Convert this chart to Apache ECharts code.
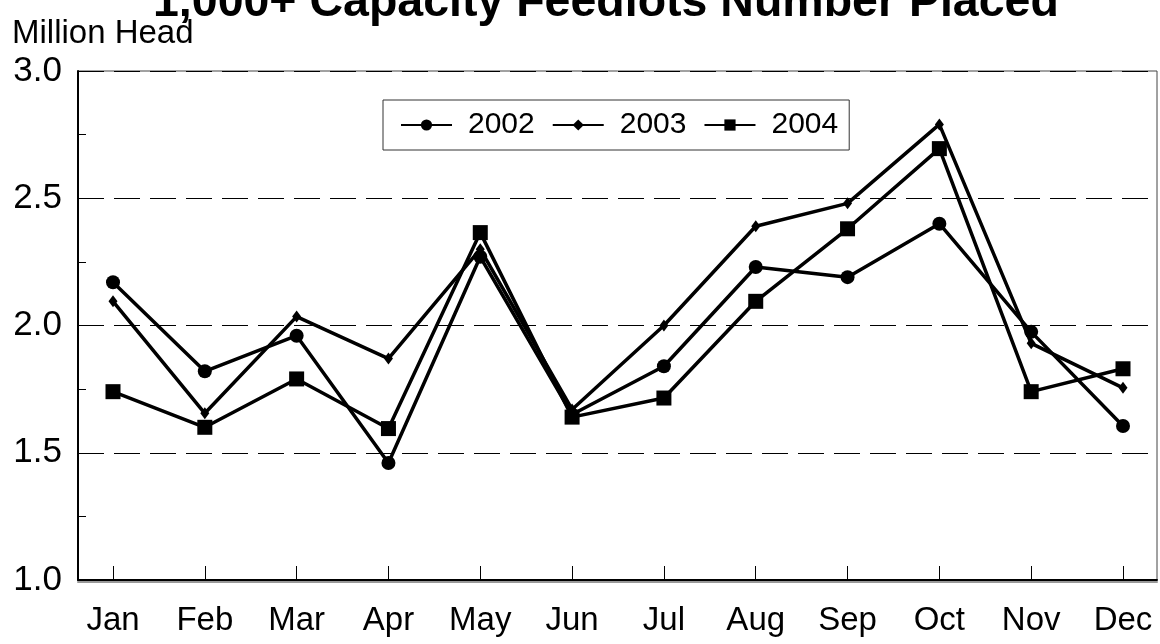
<!DOCTYPE html>
<html>
<head>
<meta charset="utf-8">
<script src="https://cdn.jsdelivr.net/npm/echarts@6/dist/echarts.min.js"></script>
<style>
  html, body { margin: 0; padding: 0; background: #fff; }
  #chart { width: 1160px; height: 644px; }
</style>
</head>
<body>
<div id="chart"></div>
<script>
const FONT = '"Liberation Sans", Arial, sans-serif';

const months = ["Jan", "Feb", "Mar", "Apr", "May", "Jun", "Jul", "Aug", "Sep", "Oct", "Nov", "Dec"];
const placed2002 = [2.17, 1.82, 1.96, 1.46, 2.27, 1.65, 1.84, 2.23, 2.19, 2.40, 1.975, 1.605];
const placed2003 = [2.095, 1.655, 2.035, 1.87, 2.30, 1.67, 2.00, 2.39, 2.48, 2.79, 1.93, 1.755];
const placed2004 = [1.74, 1.60, 1.79, 1.595, 2.365, 1.64, 1.715, 2.095, 2.38, 2.695, 1.74, 1.83];

const chart = echarts.init(document.getElementById("chart"));

// grid 0 = frame + y axis, grid 1 = where the months sit (inset from the frame)
const frame = { left: 78, right: 3, top: 71, bottom: 64 };

function line(name, data, symbol, size) {
  return {
    name,
    type: "line",
    xAxisIndex: 1,
    yAxisIndex: 1,
    data,
    symbol,
    symbolSize: size,
    showSymbol: true,
    lineStyle: { color: "#000", width: 3.5 },
    itemStyle: { color: "#000" },
    animation: false,
  };
}

chart.setOption({
  backgroundColor: "#fff",
  textStyle: { fontFamily: FONT },
  title: [
    {
      text: "1,000+ Capacity Feedlots Number Placed",
      left: 148,
      top: -25,
      textStyle: { fontFamily: FONT, fontSize: 46.5, fontWeight: "bold", color: "#000" },
    },
    {
      text: "Million Head",
      left: 7,
      top: 12,
      textStyle: { fontFamily: FONT, fontSize: 33, fontWeight: "normal", color: "#000" },
    },
  ],
  legend: {
    left: 383,
    top: 100,
    padding: [10, 11, 10, 17],
    borderColor: "#333",
    borderWidth: 1,
    itemWidth: 51,
    itemHeight: 14,
    itemGap: 17,
    textStyle: { fontFamily: FONT, fontSize: 30, color: "#000", padding: [0, 0, 0, 11] },
    data: ["2002", "2003", "2004"],
  },
  grid: [
    { ...frame, show: true, borderColor: "#444", borderWidth: 1, containLabel: false },
    { left: 113, right: 37, top: 71, bottom: 64, containLabel: false },
  ],
  xAxis: [
    {
      gridIndex: 0,
      type: "value",
      min: 0,
      max: 1,
      axisLine: {
        show: true,
        onZero: false,
        lineStyle: { color: "#000", width: 2, shadowColor: "#999", shadowOffsetY: 2 },
      },
      axisTick: { show: false },
      axisLabel: { show: false },
      splitLine: { show: false },
    },
    {
      gridIndex: 1,
      type: "category",
      data: months,
      boundaryGap: false,
      axisLine: { show: false },
      axisTick: { show: true, inside: true, length: 14, lineStyle: { color: "#000", width: 1 } },
      axisLabel: { fontFamily: FONT, fontSize: 33, color: "#000", margin: 24 },
      splitLine: { show: false },
    },
  ],
  yAxis: [
    {
      gridIndex: 0,
      type: "value",
      min: 1,
      max: 3,
      interval: 0.5,
      axisLine: { show: true, lineStyle: { color: "#000", width: 2 } },
      axisTick: { show: true, inside: true, length: 14, lineStyle: { color: "#000" } },
      minorTick: { show: true, splitNumber: 2, length: 8, lineStyle: { color: "#000" } },
      axisLabel: {
        fontFamily: FONT,
        fontSize: 35,
        color: "#000",
        margin: 16,
        formatter: (v) => v.toFixed(1),
      },
      splitLine: { show: true, lineStyle: { color: "#000", width: 1, type: [26, 10] } },
    },
    {
      gridIndex: 1,
      type: "value",
      min: 1,
      max: 3,
      show: false,
    },
  ],
  series: [
    line("2002", placed2002, "circle", 14),
    line("2003", placed2003, "diamond", [9, 12]),
    line("2004", placed2004, "rect", 15),
  ],
});
</script>
</body>
</html>
